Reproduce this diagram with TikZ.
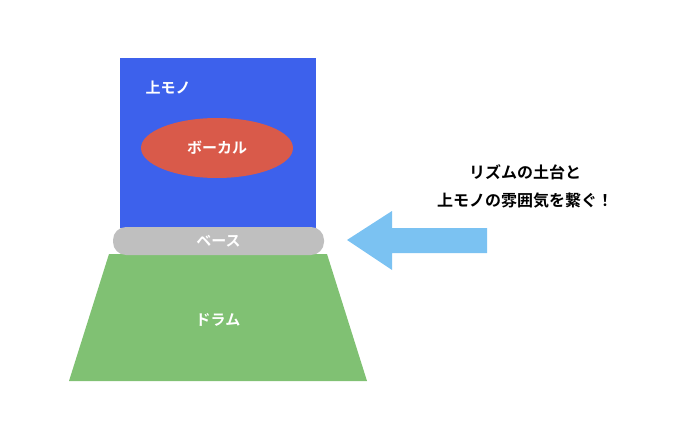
\documentclass[tikz,border=0pt]{standalone}
\usepackage{fontspec}
\newfontfamily\jp{Noto Sans CJK JP}[BoldFont={Noto Sans CJK JP Bold}]
\usetikzlibrary{shapes.geometric}
\definecolor{upper}{HTML}{3D61EC}
\definecolor{vocal}{HTML}{D95A4A}
\definecolor{bass}{HTML}{BFBFBF}
\definecolor{drum}{HTML}{80C173}
\definecolor{pointer}{HTML}{7BC2F2}
\tikzset{
  label/.style={text=white, font=\jp\bfseries\fontsize{15}{18}\selectfont, inner sep=0pt},
  note/.style={text=black, font=\jp\bfseries\fontsize{16}{28}\selectfont, align=center, inner sep=0pt}
}
\begin{document}
\begin{tikzpicture}[x=1pt,y=-1pt]
\useasboundingbox (0,0) rectangle (694,436);
% stack of parts
\fill [upper] (120,58) rectangle (316,228);
\node [label] (upperlbl) at (168,88) {上モノ};
\node [ellipse, fill=vocal, minimum width=152pt, minimum height=60pt, label] (vocal) at (217,148) {ボーカル};
\fill [drum] (109,254) -- (327,254) -- (367,381) -- (69,381) -- cycle;
\node [label] (drum) at (218,320) {ドラム};
\node [fill=bass, rounded corners=13pt, minimum width=211pt, minimum height=28pt, label] (bass) at (218.5,241) {ベース};
% pointer
\fill [pointer] (347,240) -- (392,211) -- (392,228) -- (487,228) -- (487,253) -- (392,253) -- (392,270) -- cycle;
\node [note] (note) at (525,186) {リズムの土台と\\上モノの雰囲気を繋ぐ！};
\end{tikzpicture}
\end{document}
